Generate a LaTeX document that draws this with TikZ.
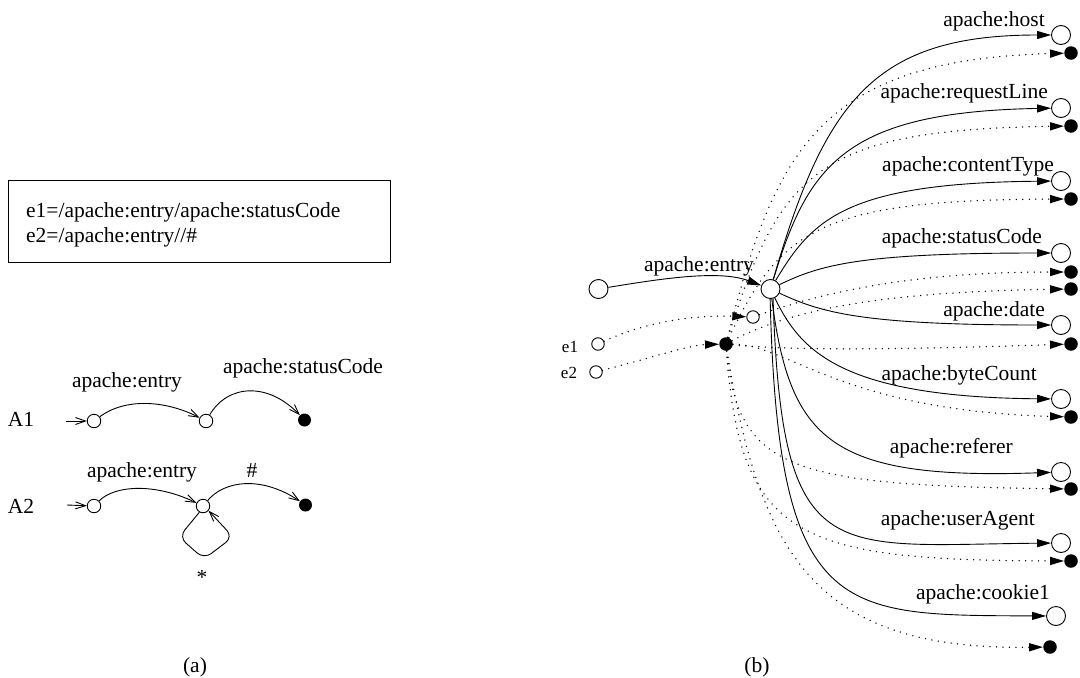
\documentclass[tikz,border=0pt]{standalone}
\usepackage{fontspec}
\setmainfont{Liberation Serif}
\usetikzlibrary{arrows.meta}
\begin{document}
\begin{tikzpicture}[x=1pt,y=-1pt,
  lbl/.style={font=\fontsize{21.5}{25}\selectfont, inner sep=0pt},
  slbl/.style={font=\fontsize{17}{20}\selectfont, inner sep=0pt},
  boxn/.style={draw, line width=0.9pt, minimum width=382pt, minimum height=82pt, inner sep=0pt},
  aopen/.style={circle, draw, line width=0.9pt, minimum size=13.5pt, inner sep=0pt},
  afill/.style={circle, fill, minimum size=13pt, inner sep=0pt},
  bopen/.style={circle, draw, line width=0.9pt, minimum size=19pt, inner sep=0pt},
  bsopen/.style={circle, draw, line width=0.9pt, minimum size=12.5pt, inner sep=0pt},
  bfill/.style={circle, fill, minimum size=13.5pt, inner sep=0pt},
  aarr/.style={line width=0.9pt, -{Straight Barb[length=10pt,width=7pt,line width=0.9pt]}},
  barr/.style={line width=0.9pt, -{Triangle[length=14pt,width=8pt]}},
  dotl/.style={line width=1.5pt, dash pattern=on 0pt off 6.5pt, line cap=round, -{Triangle[length=14pt,width=8pt]}}
]
\useasboundingbox (0,0) rectangle (1080,678);

% ---------------- (a) ----------------
\node[boxn] (box) at (199,221) {};
\node[lbl, anchor=base west] (bt1) at (26,217) {e1=/apache:entry/apache:statusCode};
\node[lbl, anchor=base west] (bt2) at (26,242) {e2=/apache:entry//\#};

\node[lbl, anchor=base] (A1) at (21,426) {A1};
\node[aopen] (a1) at (94,421) {};
\node[aopen] (a2) at (206,421) {};
\node[afill] (a3) at (304.5,420) {};
\coordinate (sa1) at (66,421);
\draw[aarr] (sa1) -- (a1);
\draw[aarr] (a1) .. controls (125,398) and (165,400) .. (a2);
\draw[aarr] (a2) .. controls (228,384) and (268,382) .. (a3);
\node[lbl, anchor=base] (la1) at (127,387) {apache:entry};
\node[lbl, anchor=base] (la2) at (303,373) {apache:statusCode};

\node[lbl, anchor=base] (A2) at (21,513) {A2};
\node[aopen] (b1) at (94,506) {};
\node[aopen] (b2) at (203,506) {};
\node[afill] (b3) at (305.5,505) {};
\coordinate (sa2) at (67,505);
\draw[aarr] (sa2) -- (b1);
\draw[aarr] (b1) .. controls (115,485) and (155,483) .. (b2);
\draw[aarr] (b2) .. controls (225,480) and (262,476) .. (b3);
\draw[aarr, rounded corners=9pt] (b2.240) -- (179,537) -- (204,559) -- (233,537) -- (b2.-40);
\node[lbl, anchor=base] (lb1) at (142,477) {apache:entry};
\node[lbl, anchor=base] (lb2) at (252,477) {\#};
\node[lbl, anchor=base] (lb3) at (202,584) {*};

\node[lbl, anchor=base] (capa) at (195,672) {(a)};

% ---------------- (b) ----------------
\node[bopen] (L) at (598.5,289) {};
\node[bopen] (C) at (770.5,289) {};
\node[bsopen] (s1) at (753,317) {};
\node[bfill] (s2) at (726,344) {};
\node[bsopen] (e1) at (598,344) {};
\node[bsopen] (e2) at (596,372) {};
\node[slbl, anchor=base] (le1) at (570,352) {e1};
\node[slbl, anchor=base] (le2) at (569,378) {e2};
\node[lbl, anchor=base] (lent) at (699,271) {apache:entry};

\draw[barr] (L) .. controls (665,278) and (720,270) .. (C);
\draw[dotl] (e1) .. controls (650,320) and (700,315) .. (s1);
\draw[dotl] (e2) .. controls (650,358) and (690,345) .. (s2);

% right column nodes
\node[bopen] (h)   at (1061,35)  {};
\node[bfill] (hf)  at (1071,53)  {};
\node[bopen] (rq)  at (1061,108) {};
\node[bfill] (rqf) at (1071,126) {};
\node[bopen] (ct)  at (1061,181) {};
\node[bfill] (ctf) at (1071,199) {};
\node[bopen] (sc)  at (1061,253) {};
\node[bfill] (scf1) at (1071,272) {};
\node[bfill] (scf2) at (1071,289) {};
\node[bopen] (dt)  at (1061,325) {};
\node[bfill] (dtf) at (1071,344) {};
\node[bopen] (bc)  at (1061,399) {};
\node[bfill] (bcf) at (1071,417) {};
\node[bopen] (rf)  at (1061,472) {};
\node[bfill] (rff) at (1071,489) {};
\node[bopen] (ua)  at (1061,543) {};
\node[bfill] (uaf) at (1071,561) {};
\node[bopen] (ck)  at (1056,616) {};
\node[bfill] (ckf) at (1050,647) {};

% labels
\node[lbl, anchor=base east] (lh)  at (1045,26)  {apache:host};
\node[lbl, anchor=base east] (lrq) at (1048,98)  {apache:requestLine};
\node[lbl, anchor=base east] (lct) at (1054,171) {apache:contentType};
\node[lbl, anchor=base east] (lsc) at (1042,243) {apache:statusCode};
\node[lbl, anchor=base east] (ldt) at (1045,316) {apache:date};
\node[lbl, anchor=base east] (lbc) at (1037,380) {apache:byteCount};
\node[lbl, anchor=base east] (lrf) at (1013,453) {apache:referer};
\node[lbl, anchor=base east] (lua) at (1035,525) {apache:userAgent};
\node[lbl, anchor=base east] (lck) at (1050,599) {apache:cookie1};

% solid edges from C
\draw[barr] (C) .. controls (825,100) and (875,35) .. (h);
\draw[barr] (C) .. controls (808,165) and (845,112) .. (rq);
\draw[barr] (C) .. controls (812,220) and (845,183) .. (ct);
\draw[barr] (C) .. controls (820,265) and (860,253) .. (sc);
\draw[barr] (C) .. controls (820,312) and (860,325) .. (dt);
\draw[barr] (C) .. controls (800,350) and (840,397) .. (bc);
\draw[barr] (C) .. controls (790,440) and (830,480) .. (rf);
\draw[barr] (C.-75) .. controls (782,570) and (830,545) .. (ua);
\draw[barr] (C.-92) .. controls (778,620) and (840,615) .. (ck);

% dotted edges
\draw[dotl] (s2) .. controls (775,150) and (820,60) .. (hf);
\draw[dotl] (s2) .. controls (780,170) and (820,130) .. (rqf);
\draw[dotl] (s2) .. controls (780,230) and (820,200) .. (ctf);
\draw[dotl] (s1) .. controls (830,290) and (920,272) .. (scf1);
\draw[dotl] (s2) .. controls (790,310) and (880,292) .. (scf2);
\draw[dotl] (s2) .. controls (800,352) and (950,348) .. (dtf);
\draw[dotl] (s2) .. controls (790,345) and (840,410) .. (bcf);
\draw[dotl] (s2) .. controls (738,470) and (790,485) .. (rff);
\draw[dotl] (s2) .. controls (740,540) and (800,560) .. (uaf);
\draw[dotl] (s2) .. controls (760,560) and (820,650) .. (ckf);

\node[lbl, anchor=base] (capb) at (757,672) {(b)};
\end{tikzpicture}
\end{document}
